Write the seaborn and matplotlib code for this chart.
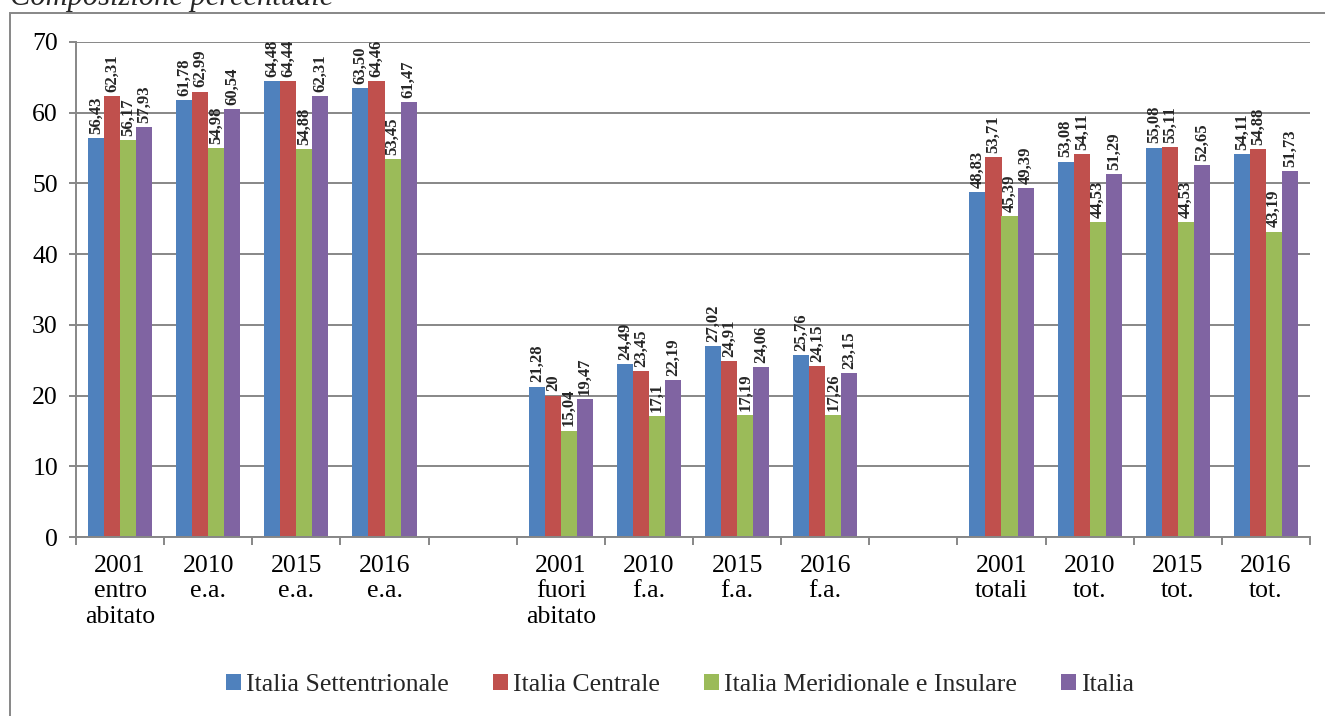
import matplotlib
matplotlib.use("Agg")
import matplotlib.pyplot as plt
from matplotlib.patches import Rectangle
import pandas as pd
import seaborn as sns

CATEGORIE = [
    "2001\nentro\nabitato", "2010\ne.a.", "2015\ne.a.", "2016\ne.a.",
    "2001\nfuori\nabitato", "2010\nf.a.", "2015\nf.a.", "2016\nf.a.",
    "2001\ntotali", "2010\ntot.", "2015\ntot.", "2016\ntot.",
]
# empty slots between the three blocks
ORDINE = CATEGORIE[:4] + [" "] + CATEGORIE[4:8] + ["  "] + CATEGORIE[8:]

SERIE = ["Italia Settentrionale", "Italia Centrale", "Italia Meridionale e Insulare", "Italia"]
SETTENTRIONALE = ["56,43", "61,78", "64,48", "63,50", "21,28", "24,49", "27,02", "25,76",
                  "48,83", "53,08", "55,08", "54,11"]
CENTRALE = ["62,31", "62,99", "64,44", "64,46", "20", "23,45", "24,91", "24,15",
            "53,71", "54,11", "55,11", "54,88"]
MERIDIONALE = ["56,17", "54,98", "54,88", "53,45", "15,04", "17,1", "17,19", "17,26",
               "45,39", "44,53", "44,53", "43,19"]
ITALIA = ["57,93", "60,54", "62,31", "61,47", "19,47", "22,19", "24,06", "23,15",
          "49,39", "51,29", "52,65", "51,73"]

COLORI = ["#4F81BD", "#C0504D", "#9BBB59", "#8064A2"]
GRIGIO = "#878787"
FONT = ["Liberation Serif", "DejaVu Serif"]

etichette = dict(zip(SERIE, [SETTENTRIONALE, CENTRALE, MERIDIONALE, ITALIA]))
rows = []
for serie, vals in etichette.items():
    for cat, s in zip(CATEGORIE, vals):
        rows.append({"cat": cat, "serie": serie, "valore": float(s.replace(",", "."))})
df = pd.DataFrame(rows)

sns.set_theme(style="white")
plt.rcParams["font.family"] = FONT
plt.rcParams["font.serif"] = FONT

fig = plt.figure(figsize=(13.25, 7.16), dpi=100)
ax = fig.add_axes([76 / 1325, 1 - 537 / 716, (1310 - 76) / 1325, (537 - 42) / 716])

sns.barplot(data=df, x="cat", y="valore", hue="serie", order=ORDINE, hue_order=SERIE,
            palette=COLORI, width=0.727, gap=0, saturation=1, errorbar=None,
            linewidth=0, ax=ax)

# data labels, rotated, from the string arrays
for serie, cont in zip(SERIE, ax.containers):
    for bar in cont:
        xc = bar.get_x() + bar.get_width() / 2
        cat = ORDINE[int(round(xc))]
        if cat not in CATEGORIE:
            continue
        txt = etichette[serie][CATEGORIE.index(cat)]
        ax.annotate(txt, (xc, bar.get_height()), xytext=(0, 3), textcoords="offset points",
                    rotation=90, ha="center", va="bottom", fontsize=12, fontweight="bold",
                    family=FONT)

ax.set_xlim(-0.5, len(ORDINE) - 0.5)
ax.set_ylim(0, 70)
ax.set_yticks(range(0, 71, 10))
ax.set_xlabel("")
ax.set_ylabel("")
ax.yaxis.grid(True, color=GRIGIO, lw=1.4)
ax.set_axisbelow(True)
for s in ["top", "right"]:
    ax.spines[s].set_visible(False)
for s in ["left", "bottom"]:
    ax.spines[s].set_color(GRIGIO)
    ax.spines[s].set_linewidth(1.4)

ax.set_xticks(range(len(ORDINE)))
ax.set_xticklabels(ORDINE, family=FONT)
ax.set_yticks(range(0, 71, 10))
ax.set_yticklabels([str(v) for v in range(0, 71, 10)], family=FONT)
ax.set_xticks([i - 0.5 for i in range(len(ORDINE) + 1)], minor=True)
ax.tick_params(axis="x", which="major", length=0, pad=13, labelsize=18.5, labelcolor="black")
ax.tick_params(axis="x", which="minor", length=6, width=1.4, color=GRIGIO, direction="out", bottom=True)
ax.tick_params(axis="y", length=5, width=1.4, color=GRIGIO, direction="out", left=True,
               pad=8, labelsize=18.5, labelcolor="black")

ax.legend(loc="center", bbox_to_anchor=(680 / 1325, 1 - 685 / 716), bbox_transform=fig.transFigure,
          ncol=4, frameon=False, prop={"family": FONT, "size": 18.5}, handlelength=0.6,
          handleheight=0.6, handletextpad=0.2, columnspacing=1.7)

fig.patches.append(Rectangle((10 / 1325, -0.1), 1.2, 1.1 - 13 / 716, transform=fig.transFigure,
                             fill=False, edgecolor=GRIGIO, lw=1.4))
fig.text(10 / 1325, 1 - 5 / 716, "Composizione percentuale", style="italic", fontsize=22,
         ha="left", va="baseline", family=FONT)

fig.savefig("out.png", dpi=100)
